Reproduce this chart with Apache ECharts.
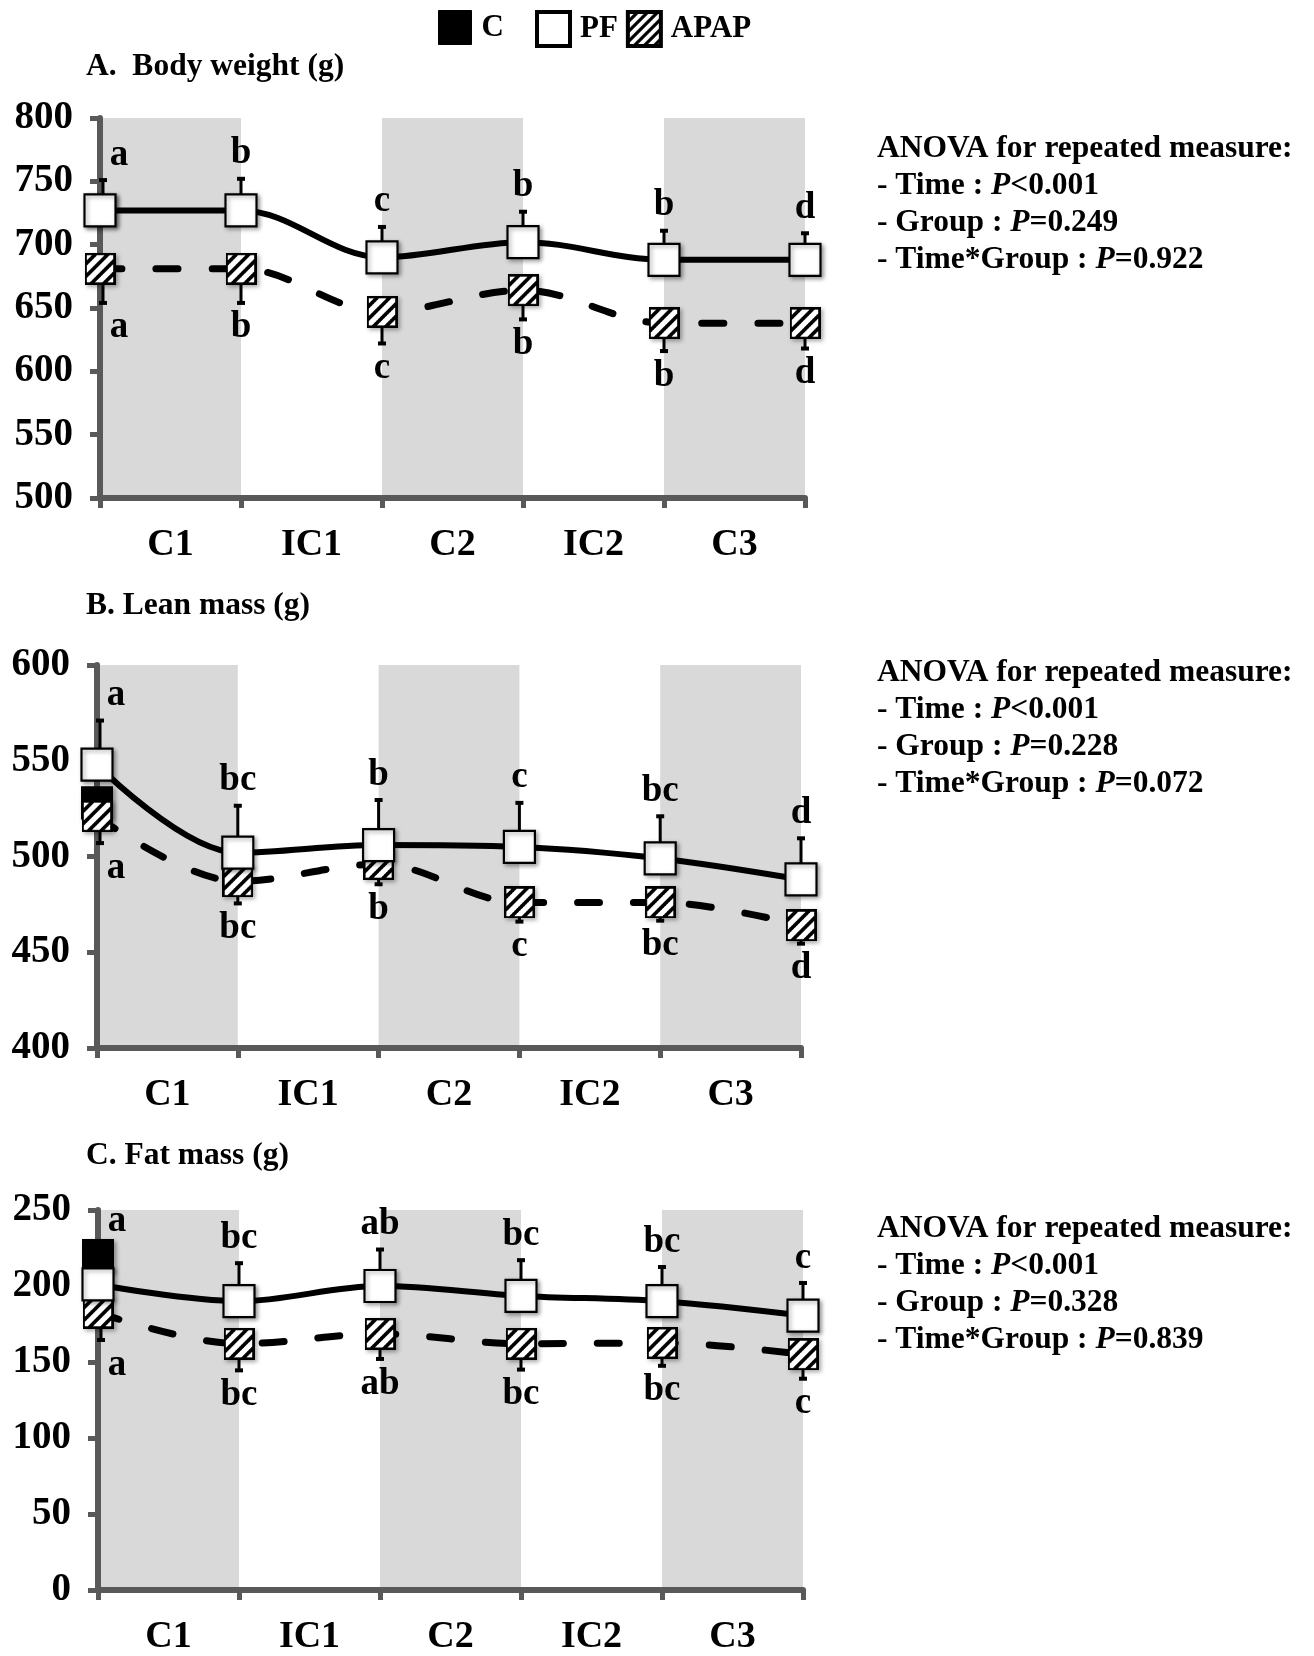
<!DOCTYPE html>
<html><head><meta charset="utf-8">
<script src="https://cdn.jsdelivr.net/npm/echarts@6/dist/echarts.min.js"></script>
<style>html,body{margin:0;padding:0;background:#fff}#chart{width:1314px;height:1656px}</style>
</head><body><div id="chart"></div>
<script>
// ---------- data ----------
const timePoints = ['T0','T1','T2','T3','T4','T5'];
const phases = ['C1','IC1','C2','IC2','C3'];
const shadedPhases = ['C1','C2','C3'];
const groups = ['C','PF','APAP'];

// A. Body weight (g)
const bwTicks = [500,550,600,650,700,750,800];
const bwC = [727];
const bwPF = [727, 727, 690, 702, 688, 688];
const bwPFse = [24, 25, 24, 24, 23, 21];
const bwAPAP = [681, 681, 647, 664, 638, 638];
const bwAPAPse = [27, 27, 25, 23, 22, 20];
const bwLettersPF = ['a','b','c','b','b','d'];
const bwLettersAPAP = ['a','b','c','b','b','d'];
const bwAnova = ['<0.001','=0.249','=0.922'];

// B. Lean mass (g)
const lmTicks = [400,450,500,550,600];
const lmC = [528];
const lmPF = [548, 502, 506, 505, 499, 488];
const lmPFse = [23, 24.5, 23.5, 23, 22, 21.5];
const lmAPAP = [521, 487, 496, 476, 476, 464];
const lmAPAPse = [14, 11.5, 10.5, 10, 9.5, 9.5];
const lmLettersPF = ['a','bc','b','c','bc','d'];
const lmLettersAPAP = ['a','bc','b','c','bc','d'];
const lmAnova = ['<0.001','=0.228','=0.072'];

// C. Fat mass (g)
const fmTicks = [0,50,100,150,200,250];
const fmC = [220];
const fmPF = [201, 190, 200, 193.5, 190, 180.5];
const fmPFse = [25, 25, 24, 23.5, 22.5, 21.5];
const fmAPAP = [182.5, 162, 168.5, 162, 162.5, 155];
const fmAPAPse = [18, 17.5, 16.5, 17, 15, 16];
const fmLettersPF = ['a','bc','ab','bc','bc','c'];
const fmLettersAPAP = ['a','bc','ab','bc','bc','c'];
const fmAnova = ['<0.001','=0.328','=0.839'];

const panelTitles = ['A.  Body weight (g)', 'B. Lean mass (g)', 'C. Fat mass (g)'];

// ---------- styling ----------
const FONT = '"Liberation Serif", "Times New Roman", serif';
const AXIS_GRAY = '#595959';
const SYM = [31, 32];

function drawHatch(g, w, h, period, lw) {
  g.save();
  g.beginPath(); g.rect(0, 0, w, h); g.clip();
  g.fillStyle = '#fff'; g.fillRect(0, 0, w, h);
  g.strokeStyle = '#000'; g.lineWidth = lw;
  g.beginPath();
  for (let k = -h; k < w + h; k += period) {
    g.moveTo(k, h); g.lineTo(k + h, 0);
  }
  g.stroke();
  g.restore();
}
function hatchTile() {
  const s = 10;
  const c = document.createElement('canvas'); c.width = s; c.height = s;
  const g = c.getContext('2d');
  g.fillStyle = '#fff'; g.fillRect(0, 0, s, s);
  g.strokeStyle = '#000'; g.lineWidth = 3.2;
  g.beginPath();
  g.moveTo(-2, s + 2); g.lineTo(s + 2, -2);
  g.moveTo(-2, 2); g.lineTo(2, -2);
  g.moveTo(s - 2, s + 2); g.lineTo(s + 2, s - 2);
  g.stroke();
  return c;
}
function hatchSymbol() {
  const sc = 3, w = SYM[0] * sc, h = SYM[1] * sc;
  const c = document.createElement('canvas'); c.width = w; c.height = h;
  const g = c.getContext('2d');
  drawHatch(g, w, h, 12.5 * sc, 3.6 * sc);
  g.strokeStyle = '#000'; g.lineWidth = 2.4 * sc;
  g.strokeRect(1.2 * sc, 1.2 * sc, w - 2.4 * sc, h - 2.4 * sc);
  return 'image://' + c.toDataURL('image/png');
}
const hatch = { image: hatchTile(), repeat: 'repeat' };
const hatchSym = hatchSymbol();

const panels = [
  { ticks: bwTicks, C: bwC, PF: bwPF, PFse: bwPFse, APAP: bwAPAP, APAPse: bwAPAPse, lPF: bwLettersPF, lAPAP: bwLettersAPAP, anova: bwAnova,
    grid: { left: 100, top: 118, width: 705, height: 380 }, titleTop: 51, anovaTop: 130 },
  { ticks: lmTicks, C: lmC, PF: lmPF, PFse: lmPFse, APAP: lmAPAP, APAPse: lmAPAPse, lPF: lmLettersPF, lAPAP: lmLettersAPAP, anova: lmAnova,
    grid: { left: 97, top: 665, width: 704, height: 383 }, titleTop: 590, anovaTop: 654 },
  { ticks: fmTicks, C: fmC, PF: fmPF, PFse: fmPFse, APAP: fmAPAP, APAPse: fmAPAPse, lPF: fmLettersPF, lAPAP: fmLettersAPAP, anova: fmAnova,
    grid: { left: 98, top: 1210, width: 705, height: 382 }, titleTop: 1140, anovaTop: 1210 }
];

function errSeries(gi, vals, ses, dir, letters) {
  return {
    type: 'custom', xAxisIndex: gi * 2, yAxisIndex: gi, z: 3, silent: true,
    data: vals.map((v, i) => [i, v, ses[i]]),
    renderItem: (params, api) => {
      const i = api.value(0), v = api.value(1), se = api.value(2);
      const p0 = api.coord([i, v]);
      const p1 = api.coord([i, v + dir * se]);
      const cap = 4;
      const dx = i === 0 ? 19 : 0;
      const ex = i === 0 ? 3 : 0;
      return { type: 'group', children: [
        { type: 'line', shape: { x1: p0[0] + ex, y1: p0[1], x2: p1[0] + ex, y2: p1[1] }, style: { stroke: '#000', lineWidth: 3 } },
        { type: 'line', shape: { x1: p1[0] + ex - cap, y1: p1[1], x2: p1[0] + ex + cap, y2: p1[1] }, style: { stroke: '#000', lineWidth: 4 } },
        { type: 'text', x: p1[0] + dx, y: p1[1] - dir * 25,
          style: { text: letters[params.dataIndex], fill: '#000', font: 'bold 37px ' + FONT, align: 'center', verticalAlign: 'middle' } }
      ]};
    }
  };
}

const grid = [], xAxis = [], yAxis = [], series = [], title = [];
const markerShadow = { shadowBlur: 4, shadowColor: 'rgba(0,0,0,0.35)', shadowOffsetX: 2, shadowOffsetY: 2 };

panels.forEach((p, gi) => {
  grid.push(Object.assign({ containLabel: false }, p.grid));
  xAxis.push({
    type: 'category', gridIndex: gi, data: timePoints, boundaryGap: false, position: 'bottom', z: 2,
    axisLine: { lineStyle: { color: AXIS_GRAY, width: 6 } },
    axisTick: { show: true, length: 10, lineStyle: { color: AXIS_GRAY, width: 5 } },
    axisLabel: { show: false }, splitLine: { show: false }
  });
  xAxis.push({
    type: 'category', gridIndex: gi, data: phases, boundaryGap: true, position: 'bottom',
    axisLine: { show: false }, axisTick: { show: false }, splitLine: { show: false },
    axisLabel: { margin: 28, color: '#000', fontFamily: FONT, fontWeight: 'bold', fontSize: 38 }
  });
  const t = p.ticks;
  yAxis.push({
    type: 'value', gridIndex: gi, min: t[0], max: t[t.length - 1], interval: t[1] - t[0], z: 2,
    axisLine: { show: true, lineStyle: { color: AXIS_GRAY, width: 6 } },
    axisTick: { show: true, length: 10, lineStyle: { color: AXIS_GRAY, width: 5 } },
    splitLine: { show: false },
    axisLabel: { margin: 27, color: '#000', fontFamily: FONT, fontWeight: 'bold', fontSize: 39 }
  });
  // shaded phase bands
  series.push({
    type: 'line', xAxisIndex: gi * 2, yAxisIndex: gi, z: 1, silent: true, symbol: 'none',
    data: timePoints.map(() => '-'),
    markArea: { silent: true, itemStyle: { color: '#d9d9d9' },
      data: shadedPhases.map(ph => { const k = phases.indexOf(ph); return [{ xAxis: timePoints[k] }, { xAxis: timePoints[k + 1] }]; }) }
  });
  series.push(errSeries(gi, p.PF, p.PFse, 1, p.lPF));
  series.push(errSeries(gi, p.APAP, p.APAPse, -1, p.lAPAP));
  series.push({
    name: 'C', type: 'line', xAxisIndex: gi * 2, yAxisIndex: gi, z: 4, silent: true,
    data: timePoints.map((_, i) => i < p.C.length ? p.C[i] : '-'),
    symbol: 'rect', symbolSize: SYM, lineStyle: { width: 0 },
    itemStyle: Object.assign({ color: '#000', borderColor: '#000', borderWidth: 1 }, markerShadow)
  });
  series.push({
    name: 'APAP', type: 'line', xAxisIndex: gi * 2, yAxisIndex: gi, z: 5, silent: true,
    data: p.APAP, smooth: 0.35, symbol: hatchSym, symbolSize: SYM, showAllSymbol: true,
    lineStyle: { color: '#000', width: 7, type: [22, 34], cap: 'round' },
    itemStyle: Object.assign({ color: '#000' }, markerShadow)
  });
  series.push({
    name: 'PF', type: 'line', xAxisIndex: gi * 2, yAxisIndex: gi, z: 6, silent: true,
    data: p.PF, smooth: 0.35, symbol: 'rect', symbolSize: SYM, showAllSymbol: true,
    lineStyle: { color: '#000', width: 6 },
    itemStyle: Object.assign({ color: '#fff', borderColor: '#000', borderWidth: 2.2 }, markerShadow)
  });
  title.push({
    text: panelTitles[gi], left: 86, top: p.titleTop, padding: 0,
    textStyle: { color: '#000', fontFamily: FONT, fontWeight: 'bold', fontSize: 31.5 }
  });
  const rich = { i: { fontStyle: 'italic', fontWeight: 'bold', fontFamily: FONT, fontSize: 31.5, lineHeight: 37, color: '#000' } };
  title.push({
    text: 'ANOVA for repeated measure:\n- Time : {i|P}' + p.anova[0] + '\n- Group : {i|P}' + p.anova[1] + '\n- Time*Group : {i|P}' + p.anova[2],
    left: 877, top: p.anovaTop, padding: 0,
    textStyle: { color: '#000', fontFamily: FONT, fontWeight: 'bold', fontSize: 31.5, lineHeight: 37, rich: rich }
  });
});

const legendText = { color: '#000', fontFamily: FONT, fontWeight: 'bold', fontSize: 31, padding: [0, 0, 0, 5] };
const chart = echarts.init(document.getElementById('chart'), null, { renderer: 'canvas' });
chart.setOption({
  animation: false,
  backgroundColor: '#fff',
  title: title,
  legend: [
    { left: 433, top: 5, itemWidth: 33, itemHeight: 34, selectedMode: false, textStyle: legendText,
      data: [{ name: 'C', icon: 'rect', itemStyle: { color: '#000', borderColor: '#000', borderWidth: 1 } }] },
    { left: 530, top: 5, itemWidth: 33, itemHeight: 34, itemGap: 8, selectedMode: false, textStyle: legendText,
      data: [
        { name: 'PF', icon: 'rect', itemStyle: { color: '#fff', borderColor: '#000', borderWidth: 4 } },
        { name: 'APAP', icon: 'rect', itemStyle: { color: hatch, borderColor: '#000', borderWidth: 4 } }
      ] }
  ],
  grid: grid, xAxis: xAxis, yAxis: yAxis, series: series
});
</script></body></html>
